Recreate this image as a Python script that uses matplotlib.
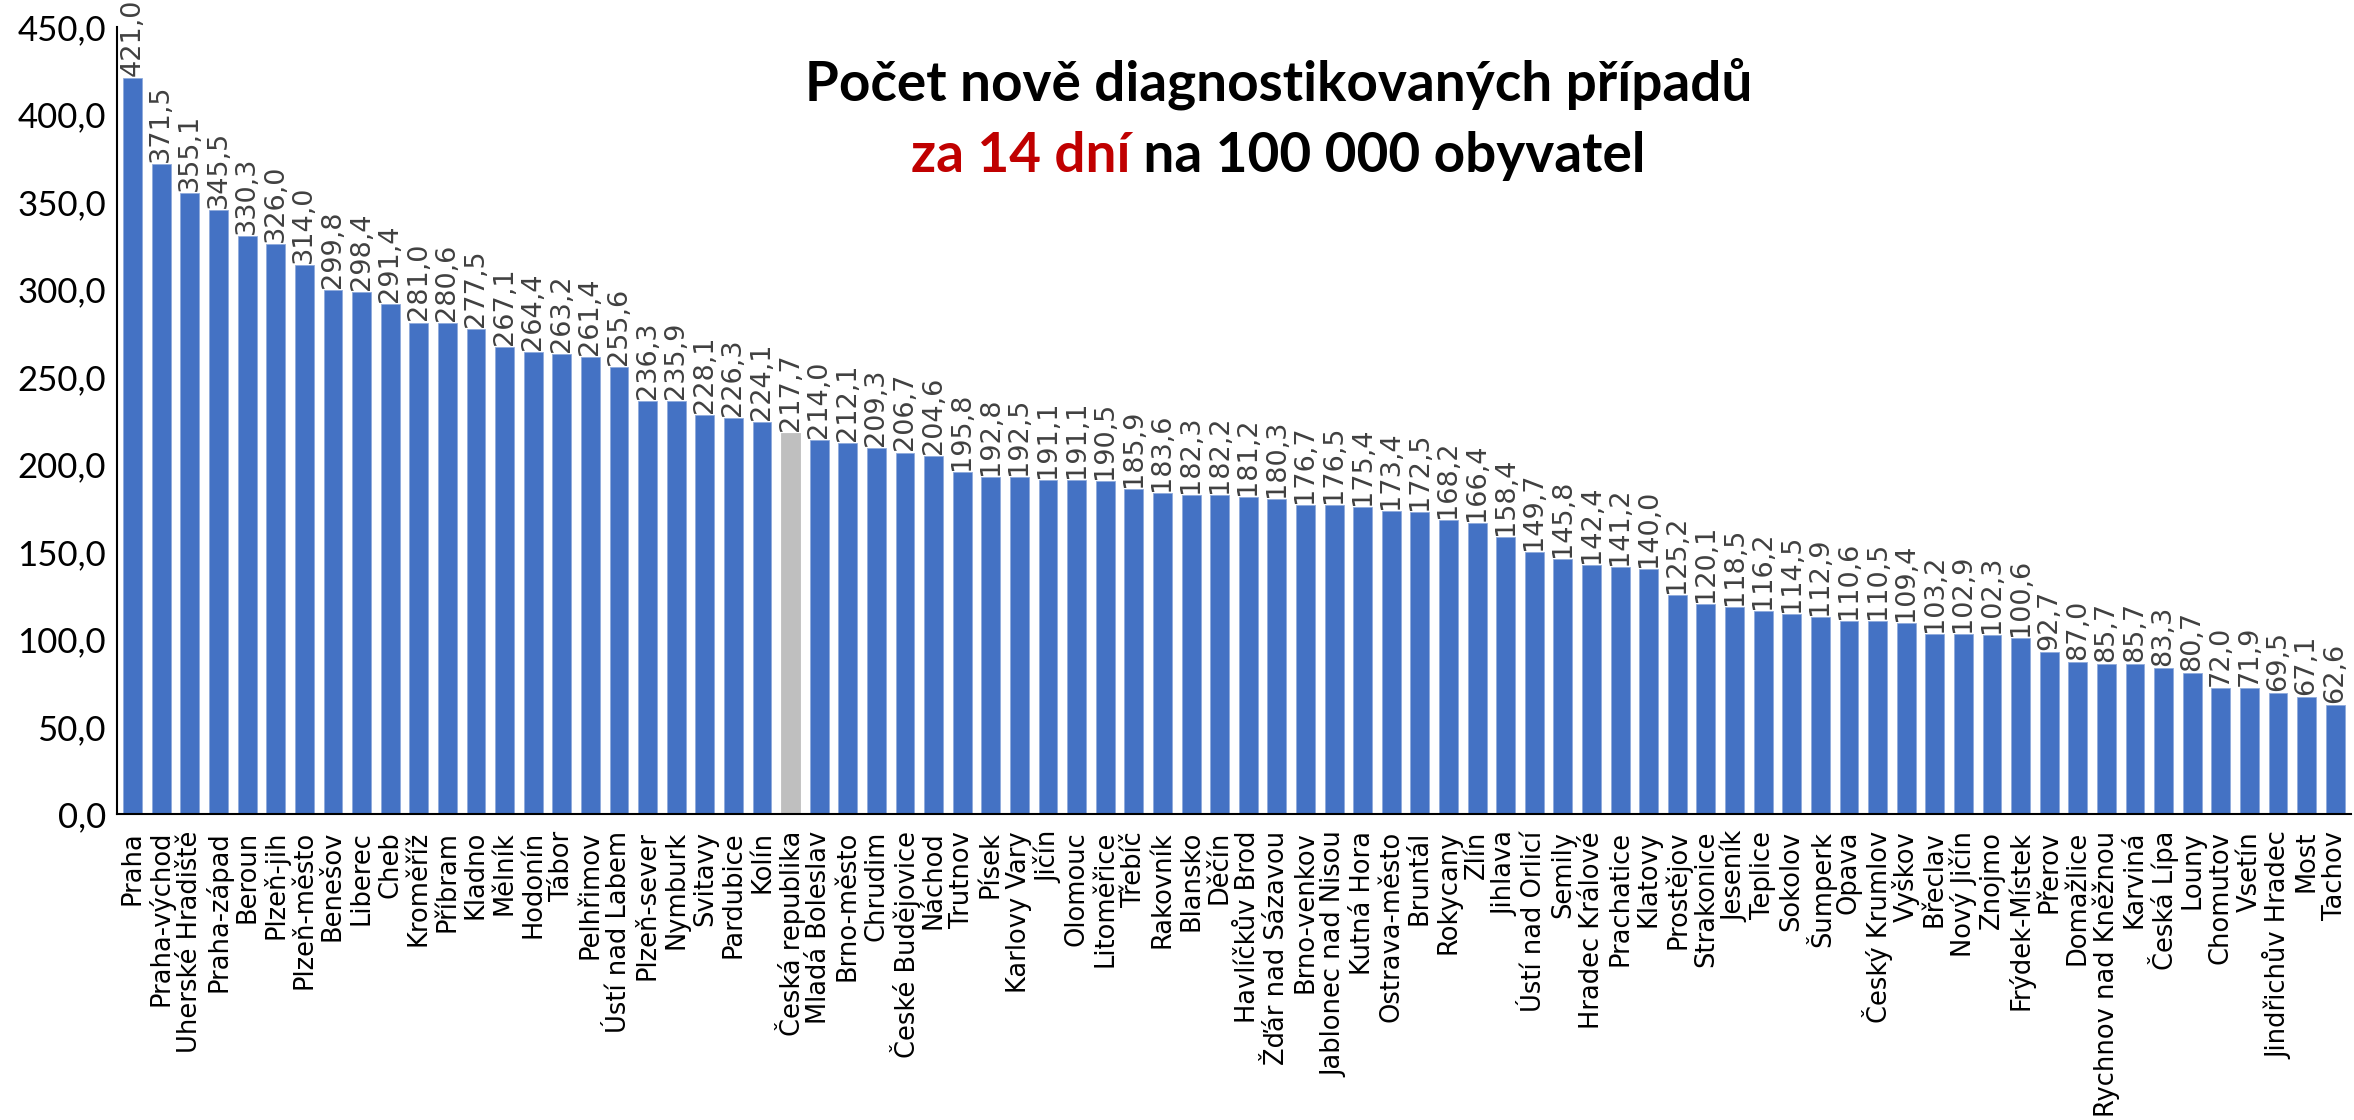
import matplotlib
matplotlib.use("Agg")
import matplotlib.pyplot as plt
import numpy as np

# districts sorted by 14-day incidence per 100 000 inhabitants
districts = [
    "Praha", "Praha-východ", "Uherské Hradiště", "Praha-západ", "Beroun",
    "Plzeň-jih", "Plzeň-město", "Benešov", "Liberec", "Cheb", "Kroměříž",
    "Příbram", "Kladno", "Mělník", "Hodonín", "Tábor", "Pelhřimov",
    "Ústí nad Labem", "Plzeň-sever", "Nymburk", "Svitavy", "Pardubice",
    "Kolín", "Česká republika", "Mladá Boleslav", "Brno-město", "Chrudim",
    "České Budějovice", "Náchod", "Trutnov", "Písek", "Karlovy Vary",
    "Jičín", "Olomouc", "Litoměřice", "Třebíč", "Rakovník", "Blansko",
    "Děčín", "Havlíčkův Brod", "Žďár nad Sázavou", "Brno-venkov",
    "Jablonec nad Nisou", "Kutná Hora", "Ostrava-město", "Bruntál",
    "Rokycany", "Zlín", "Jihlava", "Ústí nad Orlicí", "Semily",
    "Hradec Králové", "Prachatice", "Klatovy", "Prostějov", "Strakonice",
    "Jeseník", "Teplice", "Sokolov", "Šumperk", "Opava", "Český Krumlov",
    "Vyškov", "Břeclav", "Nový Jičín", "Znojmo", "Frýdek-Místek", "Přerov",
    "Domažlice", "Rychnov nad Kněžnou", "Karviná", "Česká Lípa", "Louny",
    "Chomutov", "Vsetín", "Jindřichův Hradec", "Most", "Tachov",
]
incidence = [
    421.0, 371.5, 355.1, 345.5, 330.3, 326.0, 314.0, 299.8, 298.4, 291.4,
    281.0, 280.6, 277.5, 267.1, 264.4, 263.2, 261.4, 255.6, 236.3, 235.9,
    228.1, 226.3, 224.1, 217.7, 214.0, 212.1, 209.3, 206.7, 204.6, 195.8,
    192.8, 192.5, 191.1, 191.1, 190.5, 185.9, 183.6, 182.3, 182.2, 181.2,
    180.3, 176.7, 176.5, 175.4, 173.4, 172.5, 168.2, 166.4, 158.4, 149.7,
    145.8, 142.4, 141.2, 140.0, 125.2, 120.1, 118.5, 116.2, 114.5, 112.9,
    110.6, 110.5, 109.4, 103.2, 102.9, 102.3, 100.6, 92.7, 87.0, 85.7,
    85.7, 83.3, 80.7, 72.0, 71.9, 69.5, 67.1, 62.6,
]
national = "Česká republika"
y_ticks = [0, 50, 100, 150, 200, 250, 300, 350, 400, 450]

BLUE = "#4472C4"
GREY = "#BFBFBF"
RED = "#C00000"

fig = plt.figure(figsize=(23.54, 11.2), dpi=100)
ax = fig.add_axes([0.0497, 0.273, 0.949, 0.703])

x = np.arange(len(districts))
colors = [GREY if d == national else BLUE for d in districts]
edges = [GREY if d == national else "#8FAADC" for d in districts]
ax.bar(x, incidence, width=0.66, color=colors, edgecolor=edges, linewidth=0.6)

# value labels above bars
for xi, v in zip(x, incidence):
    ax.annotate(f"{v:.1f}".replace(".", ","), (xi, v), xytext=(0, 1.5),
                textcoords="offset points", rotation=90, ha="center",
                va="bottom", fontsize=19.5, color="#404040",
                family="DejaVu Sans")

ax.set_xlim(-0.55, len(districts) - 0.45)
ax.set_ylim(0, 450)
ax.set_yticks(y_ticks)
ax.set_yticklabels([f"{t:.1f}".replace(".", ",") for t in y_ticks],
                   fontsize=25, family="Lato")
ax.set_xticks(x)
ax.set_xticklabels(districts, rotation=90, fontsize=18.5, family="DejaVu Sans")
ax.tick_params(axis="both", length=0)
ax.tick_params(axis="x", pad=12)
ax.tick_params(axis="y", pad=8)
for s in ["top", "right"]:
    ax.spines[s].set_visible(False)
ax.spines["left"].set_linewidth(1.5)
ax.spines["bottom"].set_linewidth(1.5)

# title, second line in two colours
title_kw = dict(fontsize=39.5, fontweight="bold", family="Lato",
                transform=fig.transFigure, va="center")
fig.text(0.543, 0.925, "Počet nově diagnostikovaných případů", ha="center",
         **title_kw)
t1 = fig.text(0, 0.861, "za 14 dní", ha="left", color=RED, **title_kw)
t2 = fig.text(0, 0.861, " na 100 000 obyvatel", ha="left", color="black",
              **title_kw)
fig.canvas.draw()
r = fig.canvas.get_renderer()
w1 = t1.get_window_extent(r).width / fig.bbox.width
w2 = t2.get_window_extent(r).width / fig.bbox.width
start = 0.543 - (w1 + w2) / 2
t1.set_x(start)
t2.set_x(start + w1)

fig.savefig("out.png", dpi=100)
